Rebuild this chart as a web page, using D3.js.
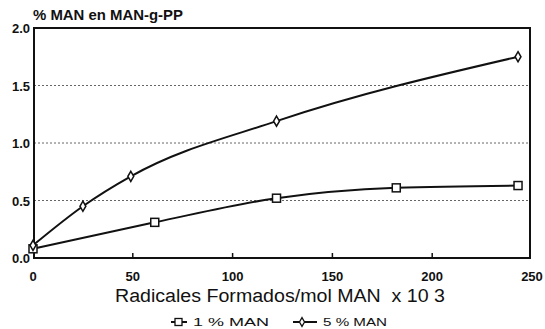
<!DOCTYPE html>
<html>
<head>
<meta charset="utf-8">
<script src="https://cdn.jsdelivr.net/npm/d3@7"></script>
<style>
  html, body { margin: 0; padding: 0; background: #fff; }
  svg { display: block; }
  text { font-family: "Liberation Sans", Arial, sans-serif; fill: #111; }
</style>
</head>
<body>
<svg id="chart" width="545" height="329"></svg>
<script>
// Radical dose (mol radicals formed per mol MAN x 10^3) vs grafted MAN %
const xMan1 = [0, 61, 122, 182, 243];
const yMan1 = [0.08, 0.31, 0.52, 0.61, 0.63];
const xMan5 = [0, 25, 49, 122, 243];
const yMan5 = [0.11, 0.45, 0.71, 1.19, 1.75];
const xTicks = [0, 50, 100, 150, 200, 250];
const yTicks = [0.0, 0.5, 1.0, 1.5, 2.0];
const seriesNames = ["1 % MAN", "5 % MAN"];

const svg = d3.select("#chart");
const plotL = 34, plotR = 530, plotT = 28, plotB = 258;

const x = d3.scaleLinear().domain([0, 250]).range([33, 532]);
const y = d3.scaleLinear().domain([0, 2]).range([plotB, plotT]);

// dotted reference lines
svg.append("g").selectAll("line")
  .data([0.5, 1.0, 1.5]).join("line")
  .attr("x1", plotL).attr("x2", plotR)
  .attr("y1", d => y(d)).attr("y2", d => y(d))
  .attr("stroke", "#666").attr("stroke-width", 1)
  .attr("stroke-dasharray", "2,2");

// frame
svg.append("rect")
  .attr("x", plotL).attr("y", plotT)
  .attr("width", plotR - plotL).attr("height", plotB - plotT)
  .attr("fill", "none").attr("stroke", "#111").attr("stroke-width", 2);

// x ticks (inward) and labels
const xa = svg.append("g");
xa.selectAll("line").data(xTicks.slice(1, -1)).join("line")
  .attr("x1", d => x(d)).attr("x2", d => x(d))
  .attr("y1", plotB).attr("y2", plotB - 5)
  .attr("stroke", "#111").attr("stroke-width", 1.5);
xa.selectAll("text").data(xTicks).join("text")
  .attr("x", d => x(d)).attr("y", 281)
  .attr("text-anchor", "middle")
  .attr("font-size", 13).attr("font-weight", "bold")
  .text(d => d);

// y labels
svg.append("g").selectAll("text").data(yTicks).join("text")
  .attr("x", 30).attr("y", d => y(d) + 5)
  .attr("text-anchor", "end")
  .attr("font-size", 13).attr("font-weight", "bold")
  .text(d => d.toFixed(1));

// axis titles
svg.append("text")
  .attr("x", 33).attr("y", 20)
  .attr("font-size", 14).attr("font-weight", "bold")
  .attr("textLength", 150).attr("lengthAdjust", "spacingAndGlyphs")
  .text("% MAN en MAN-g-PP");
svg.append("text")
  .attr("x", 115).attr("y", 302)
  .attr("font-size", 18)
  .attr("xml:space", "preserve")
  .attr("textLength", 330).attr("lengthAdjust", "spacingAndGlyphs")
  .text("Radicales Formados/mol MAN  x 10 3");

// series lines
const line = d3.line().curve(d3.curveMonotoneX)
  .x(d => x(d[0])).y(d => y(d[1]));
const s1 = xMan1.map((v, i) => [v, yMan1[i]]);
const s5 = xMan5.map((v, i) => [v, yMan5[i]]);

[s1, s5].forEach(s => {
  svg.append("path").datum(s)
    .attr("d", line)
    .attr("fill", "none").attr("stroke", "#111").attr("stroke-width", 2);
});

// markers
svg.append("g").selectAll("rect").data(s1).join("rect")
  .attr("x", d => x(d[0]) - 4).attr("y", d => y(d[1]) - 4)
  .attr("width", 8).attr("height", 8)
  .attr("fill", "#fff").attr("stroke", "#111").attr("stroke-width", 1.5);
const diamond = d3.symbol().type(d3.symbolDiamond).size(30);
svg.append("g").selectAll("path").data(s5).join("path")
  .attr("transform", d => `translate(${x(d[0])},${y(d[1])})`)
  .attr("d", diamond)
  .attr("fill", "#fff").attr("stroke", "#111").attr("stroke-width", 1.5);

// legend
const lg = svg.append("g");
const ly = 322;
lg.append("line").attr("x1", 171).attr("x2", 187).attr("y1", ly).attr("y2", ly)
  .attr("stroke", "#111").attr("stroke-width", 2);
lg.append("rect").attr("x", 175).attr("y", ly - 3.5).attr("width", 7).attr("height", 7)
  .attr("fill", "#fff").attr("stroke", "#111").attr("stroke-width", 1.3);
lg.append("text").attr("x", 193).attr("y", 326)
  .attr("font-size", 11)
  .attr("textLength", 76).attr("lengthAdjust", "spacingAndGlyphs")
  .text(seriesNames[0]);
lg.append("line").attr("x1", 293).attr("x2", 317).attr("y1", ly).attr("y2", ly)
  .attr("stroke", "#111").attr("stroke-width", 2);
lg.append("path").attr("transform", `translate(302,${ly})`)
  .attr("d", d3.symbol().type(d3.symbolDiamond).size(22))
  .attr("fill", "#fff").attr("stroke", "#111").attr("stroke-width", 1.3);
lg.append("text").attr("x", 323).attr("y", 326)
  .attr("font-size", 11)
  .attr("textLength", 64).attr("lengthAdjust", "spacingAndGlyphs")
  .text(seriesNames[1]);
</script>
</body>
</html>
